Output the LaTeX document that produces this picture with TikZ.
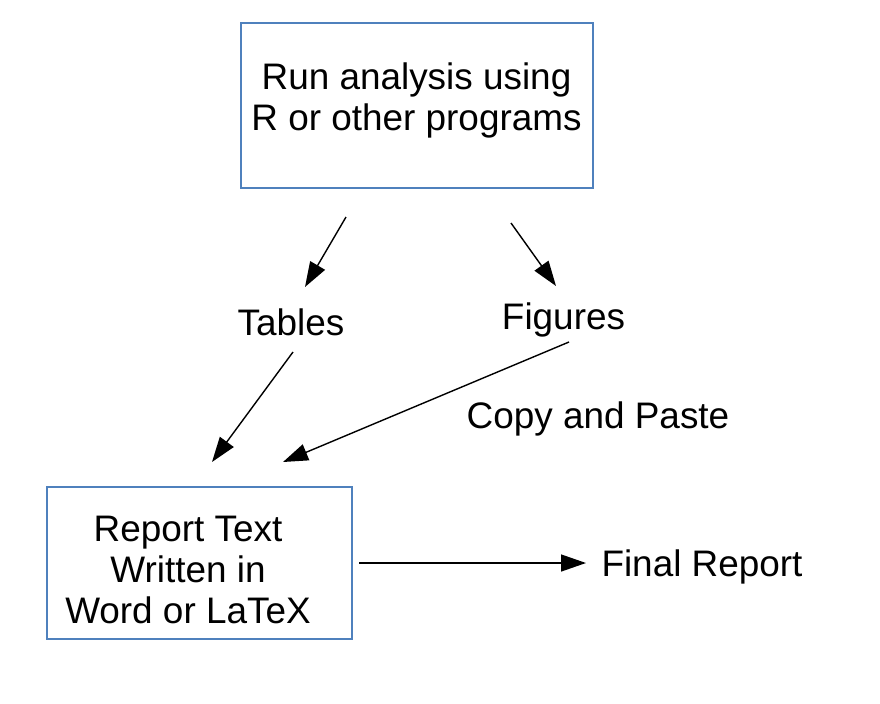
\documentclass[tikz,border=0pt]{standalone}
\usepackage{fontspec}
\setmainfont{Liberation Sans}
\usepackage{tikz}
\usetikzlibrary{positioning, arrows.meta}
\definecolor{boxblue}{RGB}{79,129,189}

\begin{document}
\begin{tikzpicture}[
    block/.style={rectangle, draw=boxblue, line width=0.45pt},
    arrow/.style={-{Triangle[length=2.5mm, width=1.7mm]}, line width=0.4pt},
    labeltext/.style={font=\fontsize{10.5}{11.7}\selectfont, align=center, inner sep=0pt}
]
    \useasboundingbox (0,0) rectangle (8.8,-7.04);

    % Analysis box
    \node[block, minimum width=3.52cm, minimum height=1.65cm] (run) at (4.17,-1.055) {};
    \node[labeltext] (runtext) at (4.165,-1.005) {Run analysis using\\R or other programs};

    % Outputs
    \node[labeltext] (tables) at (2.91,-3.22) {Tables};
    \node[labeltext] (figures) at (5.635,-3.20) {Figures};
    \node[labeltext] (copy) at (5.98,-4.185) {Copy and Paste};

    % Report box
    \node[block, minimum width=3.05cm, minimum height=1.52cm] (report) at (1.995,-5.63) {};
    \node[labeltext] (reporttext) at (1.88,-5.70) {Report Text\\Written in\\Word or LaTeX};

    % Final report
    \node[labeltext] (final) at (7.02,-5.665) {Final Report};

    % Arrow ends
    \coordinate (t1) at (3.46,-2.17);
    \coordinate (t2) at (3.05,-2.87);
    \coordinate (f1) at (5.11,-2.23);
    \coordinate (f2) at (5.56,-2.86);
    \coordinate (t3) at (2.93,-3.52);
    \coordinate (t4) at (2.12,-4.62);
    \coordinate (f3) at (5.69,-3.42);
    \coordinate (f4) at (2.83,-4.62);
    \coordinate (r1) at (3.59,-5.63);
    \coordinate (r2) at (5.86,-5.63);

    % Arrows
    \draw[arrow] (t1) -- (t2);
    \draw[arrow] (f1) -- (f2);
    \draw[arrow] (t3) -- (t4);
    \draw[arrow] (f3) -- (f4);
    \draw[arrow] (r1) -- (r2);

\end{tikzpicture}
\end{document}
